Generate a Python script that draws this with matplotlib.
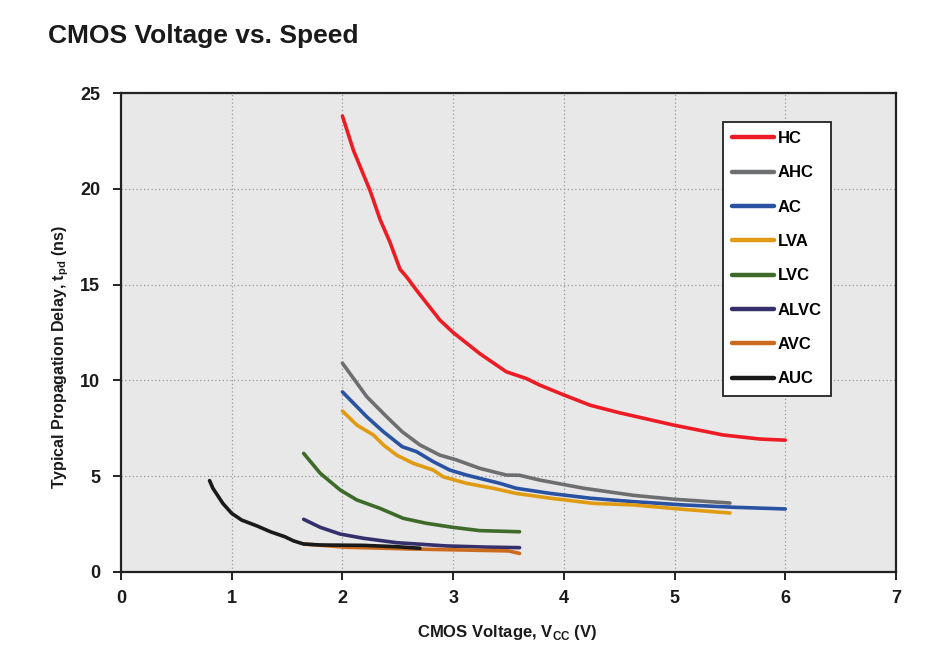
import matplotlib
matplotlib.use("Agg")
import matplotlib.pyplot as plt

FONT = "Liberation Sans"
plt.rcParams['mathtext.fontset'] = 'custom'
plt.rcParams['mathtext.rm'] = FONT + ':bold'
plt.rcParams['mathtext.bf'] = FONT + ':bold'

# ---- data ----
series_names = ["HC", "AHC", "AC", "LVA", "LVC", "ALVC", "AVC", "AUC"]
colors = ["#ED1C24", "#6D6E70", "#2A52A3", "#E09B12", "#3E6A2A", "#35306B", "#CC6A1E", "#1A1A1A"]

hc_x = [2.0, 2.10, 2.25, 2.34, 2.43, 2.52, 2.58, 2.67, 2.88, 3.0, 3.24, 3.48, 3.66, 3.78, 4.0, 4.24, 4.51, 4.99, 5.44, 5.77, 6.0]
hc_y = [23.8, 22.0, 19.9, 18.4, 17.2, 15.8, 15.4, 14.7, 13.15, 12.5, 11.4, 10.45, 10.1, 9.76, 9.24, 8.7, 8.3, 7.67, 7.15, 6.94, 6.88]

ahc_x = [2.0, 2.22, 2.40, 2.54, 2.70, 2.88, 3.03, 3.24, 3.48, 3.60, 3.78, 4.18, 4.63, 4.99, 5.5]
ahc_y = [10.9, 9.15, 8.1, 7.32, 6.63, 6.1, 5.85, 5.41, 5.06, 5.05, 4.8, 4.37, 4.0, 3.8, 3.6]

ac_x = [2.0, 2.22, 2.37, 2.54, 2.67, 2.82, 2.97, 3.12, 3.42, 3.57, 3.88, 4.24, 4.63, 5.08, 5.53, 6.0]
ac_y = [9.4, 8.1, 7.32, 6.54, 6.28, 5.76, 5.32, 5.06, 4.63, 4.37, 4.1, 3.85, 3.67, 3.5, 3.38, 3.29]

lva_x = [2.0, 2.13, 2.28, 2.37, 2.49, 2.64, 2.82, 2.91, 3.12, 3.36, 3.57, 3.88, 4.27, 4.63, 5.08, 5.5]
lva_y = [8.4, 7.67, 7.15, 6.63, 6.1, 5.67, 5.32, 4.97, 4.63, 4.37, 4.1, 3.85, 3.58, 3.5, 3.27, 3.08]

lvc_x = [1.65, 1.80, 1.98, 2.13, 2.34, 2.55, 2.76, 3.0, 3.24, 3.6]
lvc_y = [6.19, 5.15, 4.28, 3.76, 3.32, 2.8, 2.54, 2.33, 2.16, 2.1]

alvc_x = [1.65, 1.80, 1.98, 2.19, 2.49, 2.94, 3.3, 3.6]
alvc_y = [2.75, 2.33, 1.98, 1.76, 1.53, 1.36, 1.3, 1.27]

avc_x = [1.65, 2.04, 2.64, 3.24, 3.5, 3.6]
avc_y = [1.46, 1.29, 1.2, 1.13, 1.1, 0.97]

auc_x = [0.80, 0.83, 0.92, 1.0, 1.09, 1.23, 1.35, 1.48, 1.56, 1.65, 1.8, 2.19, 2.49, 2.70]
auc_y = [4.77, 4.37, 3.58, 3.06, 2.71, 2.4, 2.1, 1.84, 1.62, 1.46, 1.41, 1.39, 1.32, 1.24]

xs = [hc_x, ahc_x, ac_x, lva_x, lvc_x, alvc_x, avc_x, auc_x]
ys = [hc_y, ahc_y, ac_y, lva_y, lvc_y, alvc_y, avc_y, auc_y]

x_ticks = [0, 1, 2, 3, 4, 5, 6, 7]
y_ticks = [0, 5, 10, 15, 20, 25]

# ---- figure ----
W, H = 942, 663
fig = plt.figure(figsize=(W / 100, H / 100), dpi=100)
ax = fig.add_axes([121 / W, 1 - 572 / H, (896 - 121) / W, (572 - 93) / H])
ax.set_facecolor("#E8E8E8")

for i in range(len(series_names)):
    ax.plot(xs[i], ys[i], color=colors[i], lw=2.6, solid_capstyle='round',
            solid_joinstyle='round', label=series_names[i], zorder=3 + i * 0.01)

ax.set_xlim(0, 7)
ax.set_ylim(0, 25)
ax.set_xticks(x_ticks)
ax.set_yticks(y_ticks)
ax.grid(True, color="#9A9A9A", linestyle=(0, (1, 2)), linewidth=0.9)
ax.set_axisbelow(True)

for s in ax.spines.values():
    s.set_color("#222222")
    s.set_linewidth(1.6)

ax.tick_params(axis='both', direction='out', length=6, width=1.4, color="#222222",
               labelsize=13)
ax.tick_params(axis='x', pad=7)
ax.tick_params(axis='y', pad=9)
for lab in ax.get_xticklabels() + ax.get_yticklabels():
    lab.set_fontfamily(FONT)
    lab.set_fontweight('bold')
    lab.set_color("#1A1A1A")

fig.text(507 / W, 1 - 633 / H, r"CMOS Voltage, V$_\mathrm{CC}$ (V)", fontfamily=FONT,
         fontweight='bold', fontsize=12, color="#1A1A1A", ha='center', va='center')
fig.text(61 / W, 1 - 357 / H, r"Typical Propagation Delay, t$_\mathrm{pd}$ (ns)", fontfamily=FONT,
         fontweight='bold', fontsize=11.5, color="#1A1A1A", ha='center', va='center', rotation=90)

leg = ax.legend(loc='upper left', bbox_to_anchor=((723 - 121) / 775, (572 - 122) / 479),
                borderaxespad=0, frameon=True, fancybox=False, edgecolor="#222222",
                facecolor="white", framealpha=1, handlelength=2.5, handletextpad=0.25,
                labelspacing=1.16, borderpad=0.55,
                prop={'family': FONT, 'weight': 'bold', 'size': 12})
leg.get_frame().set_linewidth(1.3)
for line in leg.get_lines():
    line.set_linewidth(3.2)

fig.text(48 / W, 1 - 36 / H, "CMOS Voltage vs. Speed", fontfamily=FONT, fontweight='bold',
         fontsize=19, color="#1A1A1A", va='center', ha='left')

fig.savefig("out.png", dpi=100, facecolor="white")
